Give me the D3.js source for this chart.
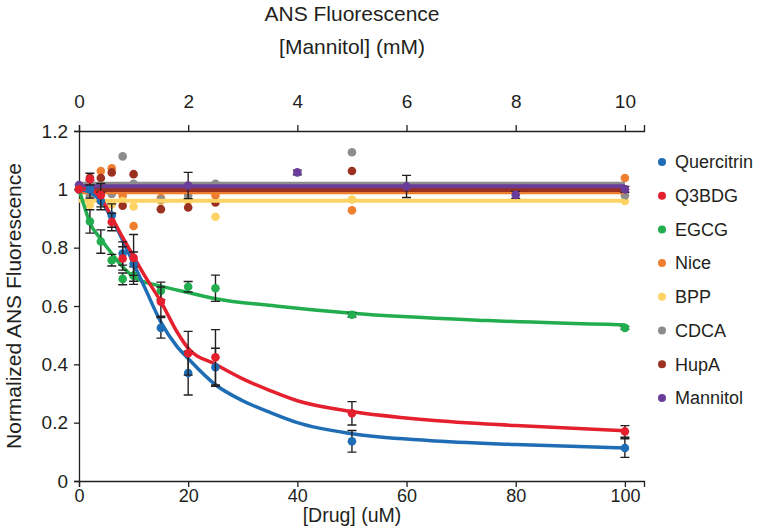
<!DOCTYPE html>
<html><head><meta charset="utf-8">
<script src="https://cdn.jsdelivr.net/npm/d3@7/dist/d3.min.js"></script>
<style>
body{margin:0;background:#fff;}
text{font-family:"Liberation Sans",Arial,Helvetica,sans-serif;fill:#231f20;}
</style></head>
<body>
<svg id="chart" width="776" height="528"></svg>
<script>
// ---------- data ----------
const drugDoses = [0, 2, 4, 6, 8, 10, 15, 20, 25, 50, 100];
const mannitolDoses = [0, 2, 4, 6, 8, 10];
const xTicks = [0, 20, 40, 60, 80, 100];
const topTicks = [0, 2, 4, 6, 8, 10];
const yTicks = [0, 0.2, 0.4, 0.6, 0.8, 1, 1.2];

const quercitrin    = [1.0, 1.0, 0.96, 0.91, 0.78, 0.745, 0.525, 0.37, 0.39, 0.136, 0.113];
const quercitrinErr = [0, 0.03, 0.03, 0.04, 0.04, 0.04, 0.035, 0.075, 0.065, 0.037, 0.032];
const q3bdg         = [1.0, 1.035, 0.98, 0.888, 0.763, 0.765, 0.615, 0.438, 0.424, 0.232, 0.17];
const q3bdgErr      = [0, 0.02, 0.04, 0.03, 0.04, 0.08, 0.05, 0.075, 0.095, 0.04, 0.02];
const egcg          = [1.0, 0.89, 0.821, 0.757, 0.693, 0.704, 0.652, 0.666, 0.661, 0.57, 0.525];
const egcgErr       = [0, 0.04, 0.04, 0.02, 0.02, 0.03, 0.03, 0.018, 0.045, 0.008, 0.005];
const nice          = [1.0, 0.99, 1.063, 1.072, 0.979, 0.874, 0.97, 0.99, 0.979, 0.928, 1.039];
const bpp           = [1.0, 0.946, 0.96, 0.949, 0.96, 0.941, 0.96, 0.96, 0.906, 0.965, 0.96];
const cdca          = [1.0, 0.979, 1.0, 0.984, 1.113, 1.019, 0.965, 0.979, 1.019, 1.127, 0.979];
const hupa          = [1.0, 1.04, 1.039, 1.058, 0.944, 1.052, 0.932, 0.938, 0.955, 1.063, 1.0];
const mannitol      = [1.015, 1.013, 1.058, 1.01, 0.981, 1.0];
const mannitolErr   = [0, 0.045, 0.008, 0.038, 0.012, 0.01];

// fitted curves
const quercitrinFitX = [0, 2, 4, 6, 8, 10, 12, 15, 18, 20, 25, 30, 35, 40, 50, 64, 80, 100];
const quercitrinFitY = [1.0, 0.99, 0.96, 0.9, 0.825, 0.745, 0.665, 0.545, 0.46, 0.42, 0.33, 0.275, 0.235, 0.2, 0.162, 0.139, 0.125, 0.113];
const q3bdgFitX = [0, 2, 4, 6, 8, 10, 12, 15, 18, 20, 25, 30, 35, 40, 50, 64, 80, 100];
const q3bdgFitY = [1.0, 1.0, 0.97, 0.905, 0.835, 0.77, 0.705, 0.615, 0.51, 0.455, 0.4, 0.35, 0.31, 0.275, 0.238, 0.209, 0.19, 0.172];
const egcgFitX = [0, 1, 2, 4, 6, 8, 10, 15, 20, 25, 36, 50, 75, 100];
const egcgFitY = [1.0, 0.94, 0.885, 0.83, 0.78, 0.734, 0.70, 0.668, 0.646, 0.625, 0.6, 0.575, 0.55, 0.535];
const flatLevels = {Nice: 0.99, BPP: 0.961, CDCA: 1.019, HupA: 0.998, Mannitol: 1.011};

const seriesNames = ["Quercitrin", "Q3BDG", "EGCG", "Nice", "BPP", "CDCA", "HupA", "Mannitol"];
const colors = ["#1f6db5", "#e5202e", "#22ad4f", "#ef7f2f", "#fdd464", "#8c8c8c", "#9b3221", "#6a3d9a"];

// ---------- layout ----------
const svg = d3.select("#chart");
const L = 79, R = 644, T = 131, B = 481;
const x = d3.scaleLinear().domain([0, 103.5]).range([L, R]);
const xTop = d3.scaleLinear().domain([0, 10.35]).range([L, R]);
const y = d3.scaleLinear().domain([0, 1.2]).range([B, T]);
const color = d3.scaleOrdinal().domain(seriesNames).range(colors);

// axes
const axStyle = (g, fs) => {
  g.selectAll("path.domain").attr("stroke", "#231f20").attr("stroke-width", 1.3);
  g.selectAll(".tick line").attr("stroke", "#231f20").attr("stroke-width", 1.3);
  g.selectAll(".tick text").attr("font-size", fs).attr("font-family", '"Liberation Sans",Arial,sans-serif').attr("fill", "#231f20");
};
svg.append("g").attr("transform", `translate(0,${B})`)
  .call(d3.axisBottom(x).tickValues(xTicks).tickSizeOuter(0).tickSize(6).tickPadding(2))
  .call(axStyle, 18);
svg.append("g").attr("transform", `translate(0,${T})`)
  .call(d3.axisTop(xTop).tickValues(topTicks).tickSizeOuter(0).tickSize(6).tickPadding(17))
  .call(axStyle, 19);
svg.append("g").attr("transform", `translate(${L},0)`)
  .call(d3.axisLeft(y).tickValues(yTicks).tickSizeOuter(0).tickSize(5).tickPadding(6)
    .tickFormat(d => String(+d.toFixed(1))))
  .call(axStyle, 19);

// titles
svg.append("text").attr("x", 352).attr("y", 21).attr("text-anchor", "middle").attr("font-size", 21).text("ANS Fluorescence");
svg.append("text").attr("x", 352).attr("y", 54).attr("text-anchor", "middle").attr("font-size", 21).text("[Mannitol] (mM)");
svg.append("text").attr("x", 352).attr("y", 522).attr("text-anchor", "middle").attr("font-size", 19.5).text("[Drug] (uM)");
svg.append("text").attr("transform", `translate(21,${(T + B) / 2}) rotate(-90)`).attr("text-anchor", "middle").attr("font-size", 21).text("Normalized ANS Fluorescence");

// ---------- lines ----------
const line = d3.line().curve(d3.curveMonotoneX);
const plot = svg.append("g");

function flat(name, xs, sc) {
  plot.append("path")
    .attr("d", d3.line()([[sc(xs[0]), y(flatLevels[name])], [sc(xs[xs.length - 1]), y(flatLevels[name])]]))
    .attr("fill", "none").attr("stroke", color(name)).attr("stroke-width", 4);
}
function points(name, xs, ys, sc, errs) {
  if (errs) {
    xs.forEach((d, i) => {
      if (!errs[i]) return;
      const cx = sc(d), y1 = y(ys[i] - errs[i]), y2 = y(ys[i] + errs[i]);
      plot.append("path").attr("d", `M${cx},${y1}V${y2}M${cx - 4.5},${y1}H${cx + 4.5}M${cx - 4.5},${y2}H${cx + 4.5}`)
        .attr("stroke", "#231f20").attr("stroke-width", 1.4).attr("fill", "none");
    });
  }
  plot.selectAll(null).data(xs.map((d, i) => [d, ys[i]])).enter().append("circle")
    .attr("cx", d => sc(d[0])).attr("cy", d => y(d[1])).attr("r", 4.3)
    .attr("fill", color(name));
}

points("Nice", drugDoses, nice, x);
points("BPP", drugDoses, bpp, x);
points("CDCA", drugDoses, cdca, x);
points("HupA", drugDoses, hupa, x);
flat("BPP", drugDoses, x);
flat("Nice", drugDoses, x);
flat("HupA", drugDoses, x);
flat("CDCA", drugDoses, x);
points("Mannitol", mannitolDoses, mannitol, xTop, mannitolErr);
flat("Mannitol", mannitolDoses, xTop);

function curve(name, fx, fy) {
  plot.append("path").attr("d", line(fx.map((d, i) => [x(d), y(fy[i])])))
    .attr("fill", "none").attr("stroke", color(name)).attr("stroke-width", 3.5);
}
curve("EGCG", egcgFitX, egcgFitY);
curve("Quercitrin", quercitrinFitX, quercitrinFitY);
curve("Q3BDG", q3bdgFitX, q3bdgFitY);
points("EGCG", drugDoses, egcg, x, egcgErr);
points("Quercitrin", drugDoses, quercitrin, x, quercitrinErr);
points("Q3BDG", drugDoses, q3bdg, x, q3bdgErr);

// ---------- legend ----------
const leg = svg.append("g");
seriesNames.forEach((n, i) => {
  const ly = 162 + i * 33.7;
  leg.append("circle").attr("cx", 662).attr("cy", ly).attr("r", 4).attr("fill", color(n));
  leg.append("text").attr("x", 675).attr("y", ly).attr("dy", "0.35em").attr("font-size", 18).text(n);
});
</script>
</body></html>
